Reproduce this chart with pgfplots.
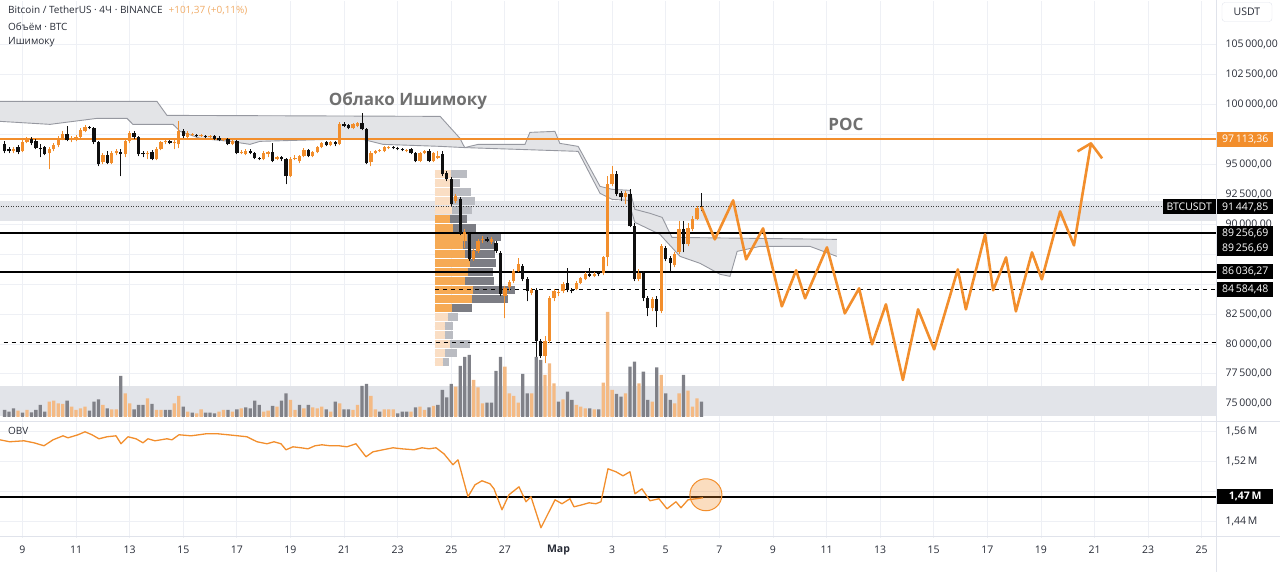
\documentclass[border=0pt]{standalone}
\usepackage{fontspec}
\setmainfont{Open Sans}
\usepackage{pgfplots}
\pgfplotsset{compat=1.18}
\usepackage{pgfplotstable}

\definecolor{tvorange}{RGB}{242,142,44}
\definecolor{tvtext}{RGB}{40,44,55}
\definecolor{gridc}{RGB}{238,240,245}
\definecolor{sepc}{RGB}{224,227,235}
\definecolor{bandc}{RGB}{226,228,233}
\definecolor{cloudf}{RGB}{227,228,231}
\definecolor{cloudl}{RGB}{150,152,160}
\definecolor{volup}{RGB}{244,186,132}
\definecolor{voldn}{RGB}{128,129,136}
\definecolor{vpo}{RGB}{246,170,84}
\definecolor{vpol}{RGB}{250,222,196}
\definecolor{vpg}{RGB}{124,125,132}
\definecolor{vpgl}{RGB}{186,188,194}
\definecolor{candledn}{RGB}{15,15,15}
\definecolor{annot}{RGB}{112,112,112}
\definecolor{lightor}{RGB}{240,172,104}

\newcommand\ticfont{\fontsize{10.5}{12}\selectfont}

% 4H candles, x = bar index (Mar 1 00:00 = 124), prices in USDT
\pgfplotstableread{
j o h l c
2 96086 96420 95919 96254
4 96086 97089 96002 96838
5 96838 97256 96755 97089
10 95919 96420 94583 96254
11 96254 96755 96086 96587
12 96587 97339 96420 97172
13 97172 97757 97006 97507
15 97006 97339 96838 97172
16 97089 97423 96922 97256
17 97256 98007 97172 97840
18 97757 98258 97673 98091
22 95167 95919 95000 95752
24 95084 96086 95000 95919
25 95919 96254 95752 96086
27 95835 97089 95585 96922
28 96922 97757 96755 97590
32 95835 96086 95418 95919
34 95418 96420 95334 96254
35 96254 96922 96170 96838
36 96838 97006 96671 96922
38 96755 97089 96254 96838
39 96671 98592 96338 97757
41 97256 97757 97172 97590
42 97423 97590 97339 97507
44 97339 97507 97256 97423
46 97256 97423 97172 97339
49 97006 97172 96922 97089
51 96671 97006 96587 96922
53 95919 96170 95835 96002
54 95835 96254 95752 96086
58 95418 96086 95334 95919
59 95835 96086 95585 96002
61 95418 95669 95334 95585
64 93998 95585 93914 95418
65 95418 95752 95334 95502
66 95251 95752 95084 95669
67 95669 96338 95585 96170
69 95669 96086 95585 96002
70 96002 96504 95919 96420
71 96420 96838 96338 96755
73 96587 96922 96504 96838
75 96671 98508 96587 98341
78 98007 98425 97924 98341
79 98175 98508 98091 98425
82 95167 96086 94833 95919
83 95919 96170 95835 96086
84 96086 96254 96002 96170
85 96086 96504 96002 96420
86 96338 96504 96254 96420
90 96130 96254 96002 96210
93 95251 96002 95167 95919
94 95919 96170 95835 96086
96 95251 96002 95167 95919
97 95502 96086 95418 95669
101 91909 92494 91742 92327
103 89153 89570 87983 89320
105 87064 87900 86897 87733
106 87733 88735 87566 88568
107 88651 88986 88401 88735
109 88484 88902 88317 88735
112 83974 84809 82135 84641
113 84725 85310 84391 85143
114 85226 86229 85059 86062
115 86062 87148 85978 86647
118 84224 84641 84057 84474
121 78960 80631 78376 80214
122 80214 83974 80047 83807
123 83807 84558 83556 84391
124 84224 84474 83974 84307
125 84391 85143 84224 84976
128 84558 85226 84474 85059
129 85059 85560 84976 85477
130 85393 85978 85310 85811
132 85644 85978 85560 85811
134 85895 87315 85727 87231
135 87231 93998 86480 93330
136 93330 94833 93163 94165
139 92243 92745 91659 92578
142 85393 86229 85226 85895
145 82970 83890 82720 83723
147 82720 88317 82553 88150
150 86563 87649 86396 87482
151 87650 90239 87482 89570
153 88317 90072 88150 89654
154 89570 90657 89403 90406
155 90406 91492 90322 91325
}\upc

\pgfplotstableread{
j o h l c
0 96671 96922 95919 96086
1 96254 96420 95919 96086
3 96420 96587 95835 96002
6 97089 97256 96587 96755
7 96922 97089 96254 96338
8 96338 96671 95585 96254
9 96420 96504 95752 95835
14 97507 98175 96922 97006
19 98091 98175 97924 98007
20 98007 98091 96671 96838
21 96838 96922 94833 95000
23 95752 96086 95000 95084
26 96002 96254 93998 95835
29 97590 97757 97089 97256
30 97256 97339 95669 95835
31 95919 96086 95585 95835
33 96002 96170 95334 95418
37 96922 97006 96671 96755
40 97757 97924 97172 97339
43 97423 97507 97256 97339
45 97339 97423 97172 97256
47 97339 97423 97006 97089
48 97172 97339 96922 97006
50 97089 97172 96587 96671
52 96922 97006 95835 95919
55 96086 96254 95835 95919
56 95919 96002 95418 95502
57 95502 95585 95334 95418
60 96002 96755 95167 95251
62 95585 95669 95251 95418
63 95418 95502 93330 93998
68 96170 96254 95585 95669
72 96838 96922 96504 96587
74 96838 96922 96504 96671
76 98341 98508 98091 98175
77 98258 98341 97924 98007
80 98425 99260 97840 97924
81 97924 98007 95000 95084
87 96420 96504 96254 96338
88 96338 96420 96170 96254
89 96254 96338 96086 96170
91 96254 96338 95835 95919
92 95919 96002 95167 95251
95 96086 96254 95167 95251
98 95835 96086 93998 94165
99 94249 94416 93580 93747
100 93747 93914 91492 91659
102 92076 92243 89069 89236
104 89153 89236 86897 87064
108 88735 88902 88484 88568
110 88401 88568 87566 87733
111 87566 87733 83974 84140
116 86480 86647 85226 85393
117 85393 85560 83556 84391
119 84474 84641 78543 80214
120 80214 80381 78793 78960
126 85059 86313 84307 84474
127 84474 84641 84224 84391
131 85811 86313 85560 85644
133 85895 85978 85644 85811
137 94165 94416 92327 92494
138 92578 92745 91909 92243
140 92494 92912 89737 89821
141 89821 90072 85226 85393
143 85895 86062 83556 83807
144 83807 83974 82302 82970
146 83723 83974 81384 82720
148 87983 88150 86897 87064
149 87148 87315 86062 86730
152 89570 90239 87649 88317
156 91500 92578 91074 91448
}\dnc

% volume (relative units)
\pgfplotstableread{
j v
3 6.3
5 7
10 15.3
11 16.3
12 13.7
13 13
15 10.3
16 7
17 8.7
18 10.3
22 12
24 7.7
25 7.7
27 23.7
28 13.7
32 18.7
34 7
35 7
38 13.7
39 21
41 5.3
43 3.7
44 7.7
48 5.3
49 7
51 5.3
53 8.7
58 5.3
59 6.3
61 10.3
64 17
65 7
67 8.7
69 9.7
70 8.7
71 10.3
73 5.3
75 13.7
78 7
79 12
82 21
83 7.7
85 7.7
86 7.7
87 7.7
91 5.3
93 10.3
94 7
96 11
101 30.3
105 37
106 29.7
107 13.7
112 50.3
113 23.7
114 21
115 14.3
118 23.7
121 42
122 53.7
123 33.7
125 17.7
128 12
129 10.3
130 8.7
132 7.7
134 34.3
135 105
136 27
139 23.7
142 33.7
145 15.3
147 42
150 13.7
151 23.7
153 26.3
154 10.3
155 18.7
}\volup

\pgfplotstableread{
j v
0 7
1 5.3
2 8.7
4 4.3
6 4.7
7 7
8 12
9 5.3
14 16.3
19 6.3
20 15.3
21 17.7
23 8.7
26 41
29 7.7
30 12
31 12
33 13
36 7
37 7
40 10.3
42 4.3
45 4.3
46 4.3
47 3.7
50 7
52 7.7
54 9.7
55 8.7
56 16.3
57 12
60 11
62 16.3
63 23.7
66 12
68 12
72 7.7
74 15.3
76 7.7
77 7.7
80 31
81 33
84 5.3
88 3.7
89 5.3
90 5.3
92 9.7
95 9.7
97 12
98 27
99 19.7
100 33
102 51
103 60
104 62
108 14.3
109 14.3
110 46
111 60
116 43
117 23.7
119 60
120 57
124 15.3
126 25.3
127 17
131 8.7
133 7.7
137 23
138 20.3
140 50.3
141 55.3
143 45.3
144 17
146 49.7
148 23.7
149 17
152 42
156 15.3
}\voldn

% OBV in millions
\pgfplotstableread{
j v
-1.03 1.5492
1.14 1.5466
4.34 1.5479
6.58 1.5452
8.82 1.5412
10.84 1.5492
13.07 1.5546
14.19 1.5519
16.43 1.5560
18.0 1.5600
19.56 1.5560
21.13 1.5506
22.92 1.5533
24.94 1.5546
26.06 1.5439
27.62 1.5533
29.42 1.5506
30.98 1.5452
32.1 1.5506
33.67 1.5479
36.35 1.5506
37.47 1.5492
39.04 1.5560
41.73 1.5546
43.52 1.5560
45.08 1.5573
47.77 1.5573
50.01 1.5560
52.25 1.5546
54.26 1.5533
56.5 1.5466
58.74 1.5439
60.31 1.5466
61.87 1.5439
62.99 1.5358
64.56 1.5398
66.35 1.5385
67.92 1.5371
69.49 1.5412
71.05 1.5425
72.84 1.5412
74.86 1.5412
76.65 1.5398
78.66 1.5439
80.9 1.5264
82.47 1.5331
84.71 1.5358
86.95 1.5385
88.96 1.5371
91.65 1.5358
93.44 1.5385
95.01 1.5371
96.57 1.5385
98.36 1.5304
100.38 1.5156
101.5 1.5223
103.74 1.4726
105.31 1.4887
106.87 1.4941
108.66 1.4901
109.56 1.4833
111.35 1.4551
112.92 1.4753
115.15 1.4860
116.72 1.4659
117.84 1.4726
120.08 1.4309
123.22 1.4685
124.78 1.4632
126.57 1.4699
127.47 1.4591
129.26 1.4618
130.83 1.4645
132.39 1.4632
133.51 1.4659
135.08 1.5102
136.87 1.5062
138.44 1.5008
140.0 1.5062
141.12 1.4766
142.69 1.4833
144.48 1.4672
146.49 1.4699
148.29 1.4564
150.3 1.4659
151.42 1.4578
152.99 1.4685
154.78 1.4699
156.35 1.4712
}\obv

\tikzset{pbox/.style={anchor=west, text=white, font=\ticfont, inner xsep=3pt, inner ysep=0pt, minimum height=15pt, minimum width=56pt, xshift=1pt}}
\pgfplotsset{nomark/.style={only marks, mark=*, mark size=0pt, mark options={draw=none, fill=none}}}

\begin{document}
\begin{tikzpicture}[x=1pt,y=1pt]

%================ MAIN PRICE PANEL =================
\begin{axis}[
  at={(0,125)}, anchor=south west, scale only axis,
  width=1216pt, height=421pt,
  xmin=-1.03, xmax=271.2, ymin=73447, ymax=108617,
  clip mode=individual, scaled y ticks=false,
  axis line style={draw=none}, major tick length=0pt,
  xtick={4,16,...,268}, xmajorticks=false, xmajorgrids=true,
  ytick={75000,77500,...,105000},
  yticklabels={{75\,000,00},{77\,500,00},{80\,000,00},{82\,500,00},{},{},{90\,000,00},{92\,500,00},{95\,000,00},{},{100\,000,00},{102\,500,00},{105\,000,00}},
  yticklabel pos=right,
  yticklabel style={anchor=west, xshift=6pt, font=\ticfont, text=tvtext},
  ymajorgrids=true, major grid style={draw=gridc, line width=0.8pt},
]
% vertical day grid
\addplot[nomark, error bars/.cd, y dir=plus, y explicit, error mark=none, error bar style={line width=0.8pt, draw=gridc, line cap=butt}] coordinates {
(4,73447) +- (0,35170) (16,73447) +- (0,35170) (28,73447) +- (0,35170) (40,73447) +- (0,35170) (52,73447) +- (0,35170) (64,73447) +- (0,35170)
(76,73447) +- (0,35170) (88,73447) +- (0,35170) (100,73447) +- (0,35170) (112,73447) +- (0,35170) (124,73447) +- (0,35170) (136,73447) +- (0,35170)
(148,73447) +- (0,35170) (160,73447) +- (0,35170) (172,73447) +- (0,35170) (184,73447) +- (0,35170) (196,73447) +- (0,35170) (208,73447) +- (0,35170)
(220,73447) +- (0,35170) (232,73447) +- (0,35170) (244,73447) +- (0,35170) (256,73447) +- (0,35170) (268,73447) +- (0,35170)};

% bands
\addplot[fill=bandc, draw=none] coordinates {(-2,90239) (275,90239) (275,91909) (-2,91909)} -- cycle;
\addplot[fill=bandc, draw=none] coordinates {(-2,73948) (275,73948) (275,76454) (-2,76454)} -- cycle;

% Ichimoku cloud
\addplot[fill=cloudf, draw=none] coordinates {
(-1.03,100263) (34.1,100263) (36.35,99093) (97.5,99010) (101.95,97173) (103,96400)
(97.47,96504) (84.71,96671) (80.23,97089) (72.84,97089) (57.18,96922) (54.94,96671) (50.46,96922) (43.74,97173) (39.27,97757) (37.7,98341) (28.74,98341) (27.4,98843) (20.68,98843) (10.16,98341) (-1.03,98592)} -- cycle;
\addplot[cloudl, line width=0.9pt] coordinates {(-1.03,100263) (34.1,100263) (36.35,99093) (97.5,99010) (101.95,97173) (103,96400)};
\addplot[cloudl, line width=0.9pt] coordinates {(-1.03,98592) (10.16,98341) (20.68,98843) (27.4,98843) (28.74,98341) (37.7,98341) (39.27,97757) (43.74,97173) (50.46,96922) (54.94,96671) (57.18,96922) (72.84,97089) (80.23,97089) (84.71,96671) (97.47,96504) (103,96400)};

\addplot[fill=cloudf, draw=none] coordinates {
(103,96400) (106,96671) (116.5,96671) (117.6,97673) (123.2,97757) (124.3,96755) (128.4,96504) (133.3,93163) (136.0,92912)
(136.0,92076) (133.3,92578) (128.4,96086)} -- cycle;
\addplot[cloudl, line width=0.9pt] coordinates {(103,96400) (106,96671) (116.5,96671) (117.6,97673) (123.2,97757) (124.3,96755) (128.4,96504) (133.3,93163) (136.0,92912)};
\addplot[cloudl, line width=0.9pt] coordinates {(103,96400) (128.4,96086) (133.3,92578) (136.0,92076)};

\addplot[fill=cloudf, draw=none] coordinates {
(136.0,92912) (140.0,92829) (141.1,91241) (144.5,90907) (147.2,90573) (149.4,88902) (186.3,88735)
(186.3,87315) (180.3,88150) (169.1,88150) (164.0,87733) (162.4,85644) (160.2,85811) (155.7,86730) (151.2,87315) (146.7,89153) (141.1,90155) (139.6,91993) (136.0,92076)} -- cycle;
\addplot[cloudl, line width=0.9pt] coordinates {(136.0,92912) (140.0,92829) (141.1,91241) (144.5,90907) (147.2,90573) (149.4,88902) (186.3,88735)};
\addplot[cloudl, line width=0.9pt] coordinates {(136.0,92076) (139.6,91993) (141.1,90155) (146.7,89153) (151.2,87315) (155.7,86730) (160.2,85811) (162.4,85644) (164.0,87733) (169.1,88150) (180.3,88150) (186.3,87315)};

% volume profile (horizontal bars)
\addplot[nomark, error bars/.cd, x dir=plus, x explicit, error mark=none, error bar style={line width=8pt, draw=vpol, line cap=butt}] coordinates {
(96.35,94165) +- (3.58,0) (96.35,93413) +- (3.58,0) (96.35,92661) +- (3.81,0) (96.35,91909) +- (3.81,0) (96.35,91158) +- (3.81,0)
(96.35,82219) +- (2.91,0) (96.35,81467) +- (2.24,0) (96.35,80715) +- (2.24,0) (96.35,79964) +- (3.36,0) (96.35,79212) +- (2.24,0) (96.35,78460) +- (1.79,0)};
\addplot[nomark, error bars/.cd, x dir=plus, x explicit, error mark=none, error bar style={line width=8pt, draw=vpgl, line cap=butt}] coordinates {
(99.93,94165) +- (3.59,0) (99.93,93413) +- (2.02,0) (100.16,92661) +- (4.25,0) (100.16,91909) +- (5.15,0) (100.16,91158) +- (4.48,0)
(99.26,82219) +- (2.24,0) (98.59,81467) +- (1.79,0) (98.59,80715) +- (1.79,0) (99.71,79964) +- (4.48,0) (98.59,79212) +- (2.69,0) (98.14,78460) +- (1.35,0)};
\addplot[nomark, error bars/.cd, x dir=plus, x explicit, error mark=none, error bar style={line width=8pt, draw=vpo, line cap=butt}] coordinates {
(96.35,90406) +- (3.36,0) (96.35,89654) +- (4.03,0) (96.35,88902) +- (7.17,0) (96.35,88234) +- (6.27,0) (96.35,87482) +- (6.72,0) (96.35,86730) +- (7.84,0)
(96.35,85978) +- (7.39,0) (96.35,85226) +- (6.72,0) (96.35,84474) +- (8.51,0) (96.35,83723) +- (8.29,0) (96.35,82971) +- (3.81,0)};
\addplot[nomark, error bars/.cd, x dir=plus, x explicit, error mark=none, error bar style={line width=8pt, draw=vpg, line cap=butt}] coordinates {
(99.71,90406) +- (3.81,0) (100.38,89654) +- (5.15,0) (103.52,88902) +- (7.61,0) (102.62,88234) +- (7.17,0) (103.07,87482) +- (6.72,0) (104.19,86730) +- (5.82,0)
(103.74,85978) +- (5.60,0) (103.07,85226) +- (6.49,0) (104.86,84474) +- (9.40,0) (104.64,83723) +- (8.06,0) (100.16,82971) +- (4.48,0)};

% horizontal levels
\addplot[tvorange, line width=2pt] coordinates {(-2,97113.36) (275,97113.36)};
\addplot[black, line width=1.8pt] coordinates {(-2,89256.69) (275,89256.69)};
\addplot[black, line width=1.8pt] coordinates {(-2,86036.27) (275,86036.27)};
\addplot[black, line width=0.9pt, dash pattern=on 4pt off 4pt] coordinates {(96.35,84584.48) (275,84584.48)};
\addplot[black, line width=0.9pt, dash pattern=on 4pt off 4pt] coordinates {(-2,80130) (275,80130)};
\addplot[black!75, line width=0.8pt, dash pattern=on 1pt off 1.5pt] coordinates {(-2,91447.85) (275,91447.85)};

% candles: wicks then bodies
\addplot[nomark, error bars/.cd, y dir=plus, y explicit, error mark=none, error bar style={line width=0.9pt, draw=tvorange, line cap=butt}] table[x=j, y=l, y error expr=\thisrow{h}-\thisrow{l}] {\upc};
\addplot[nomark, error bars/.cd, y dir=plus, y explicit, error mark=none, error bar style={line width=0.9pt, draw=candledn, line cap=butt}] table[x=j, y=l, y error expr=\thisrow{h}-\thisrow{l}] {\dnc};
\addplot[nomark, error bars/.cd, y dir=plus, y explicit, error mark=none, error bar style={line width=3.3pt, draw=tvorange, line cap=butt}] table[x=j, y=o, y error expr=\thisrow{c}-\thisrow{o}] {\upc};
\addplot[nomark, error bars/.cd, y dir=plus, y explicit, error mark=none, error bar style={line width=3.3pt, draw=candledn, line cap=butt}] table[x=j, y=c, y error expr=\thisrow{o}-\thisrow{c}] {\dnc};

% forecast path
\addplot[tvorange, line width=2.6pt, line join=round] coordinates {
(156,91448) (159.0,88735) (163.1,91993) (166.0,87064) (169.8,89654) (174.0,83138) (177.2,86146) (179.2,83807) (184.1,88066) (188.1,82553) (191.3,84641) (194.2,79964) (197.3,83305) (201.1,76987) (204.5,82887) (208.1,79546) (213.4,86229) (215.2,82887) (219.5,89153) (221.3,84474) (224.2,87231) (226.4,82720) (230.0,87649) (232.2,85393) (236.3,91074) (239.4,88234) (243.2,96755) (245.7,95502)};
\addplot[tvorange, line width=2.6pt, line join=round] coordinates {(240.2,96086) (243.2,96755)};

% price labels on the right scale
\node[pbox, fill=tvorange] at (axis cs:271.2,97113.36) {97\,113,36};
\node[pbox, fill=black] at (axis cs:271.2,91447.85) {91\,447,85};
\node[anchor=east, fill=black, text=white, font=\ticfont, inner xsep=4pt, inner ysep=0pt, minimum height=15pt] at (axis cs:271.2,91447.85) {BTCUSDT};
\node[pbox, fill=black] at (axis cs:271.2,89256.69) {89\,256,69};
\node[pbox, fill=black] at (axis cs:271.2,88007) {89\,256,69};
\node[pbox, fill=black] at (axis cs:271.2,86036.27) {86\,036,27};
\node[pbox, fill=black] at (axis cs:271.2,84584.48) {84\,584,48};
\end{axis}

%================ VOLUME OVERLAY =================
\begin{axis}[
  at={(0,151)}, anchor=south west, scale only axis,
  width=1216pt, height=421pt,
  xmin=-1.03, xmax=271.2, ymin=-4, ymax=417, hide axis,
]
\addplot[ybar, bar width=3.3pt, fill=volup, draw=none] table[x=j, y=v] {\volup};
\addplot[ybar, bar width=3.3pt, fill=voldn, draw=none] table[x=j, y=v] {\voldn};
\end{axis}

%================ OBV PANEL =================
\begin{axis}[
  at={(0,46)}, anchor=south west, scale only axis,
  width=1216pt, height=115pt,
  xmin=-1.03, xmax=271.2, ymin=1.4174, ymax=1.5721,
  clip mode=individual,
  axis line style={draw=none}, major tick length=0pt,
  xtick={4,16,...,268},
  xticklabels={9,11,13,15,17,19,21,23,25,27,\textbf{Мар},3,5,7,9,11,13,15,17,19,21,23,25},
  xticklabel style={anchor=center, yshift=-12pt, font=\ticfont, text=tvtext},
  ytick={1.44,1.48,1.52,1.56},
  yticklabels={{1,44\,M},{},{1,52\,M},{1,56\,M}},
  yticklabel pos=right,
  yticklabel style={anchor=west, xshift=6pt, font=\ticfont, text=tvtext},
  grid=major, major grid style={draw=gridc, line width=0.8pt},
]
\addplot[black, line width=2.2pt] coordinates {(-2,1.4726) (275,1.4726)};
\addplot[tvorange, line width=1.3pt, line join=round] table[x=j, y=v] {\obv};
\addplot[only marks, mark=*, mark size=16pt, mark options={fill=tvorange, fill opacity=0.3, draw=tvorange, line width=1pt}] coordinates {(157.0,1.4753)};
\node[pbox, fill=black] at (axis cs:271.2,1.4726) {\textbf{1,47\,M}};
\end{axis}

% panel separators
\draw[sepc, line width=0.8pt] (0,151) -- (1280,151);
\draw[sepc, line width=0.8pt] (0,36) -- (1280,36);
\draw[sepc, line width=0.8pt] (1216.5,0) -- (1216.5,572);

% header texts
\node[anchor=west, font=\fontsize{10}{12}\selectfont, text=tvtext, inner sep=0pt] at (8,561) {Bitcoin / TetherUS · 4Ч · BINANCE\hspace{6pt}\textcolor{lightor}{+101,37 (+0,11\%)}};
\node[anchor=west, font=\fontsize{10}{12}\selectfont, text=tvtext, inner sep=0pt] at (8,545) {Объём · BTC};
\node[anchor=west, font=\fontsize{10}{12}\selectfont, text=tvtext, inner sep=0pt] at (8,530) {Ишимоку};
\node[anchor=west, font=\fontsize{10}{12}\selectfont, text=tvtext, inner sep=0pt] at (8,141) {OBV};
\node[draw=sepc, rounded corners=3pt, font=\ticfont, text=tvtext, minimum width=50pt, minimum height=19pt] at (1247,560) {USDT};

% annotations
\node[font=\fontsize{17}{20}\selectfont\bfseries, text=annot] at (408,471) {Облако Ишимоку};
\node[font=\fontsize{17}{20}\selectfont\bfseries, text=annot] at (846,448) {POC};

\pgfresetboundingbox
\path[use as bounding box] (0,0) rectangle (1280,572);
\end{tikzpicture}
\end{document}
